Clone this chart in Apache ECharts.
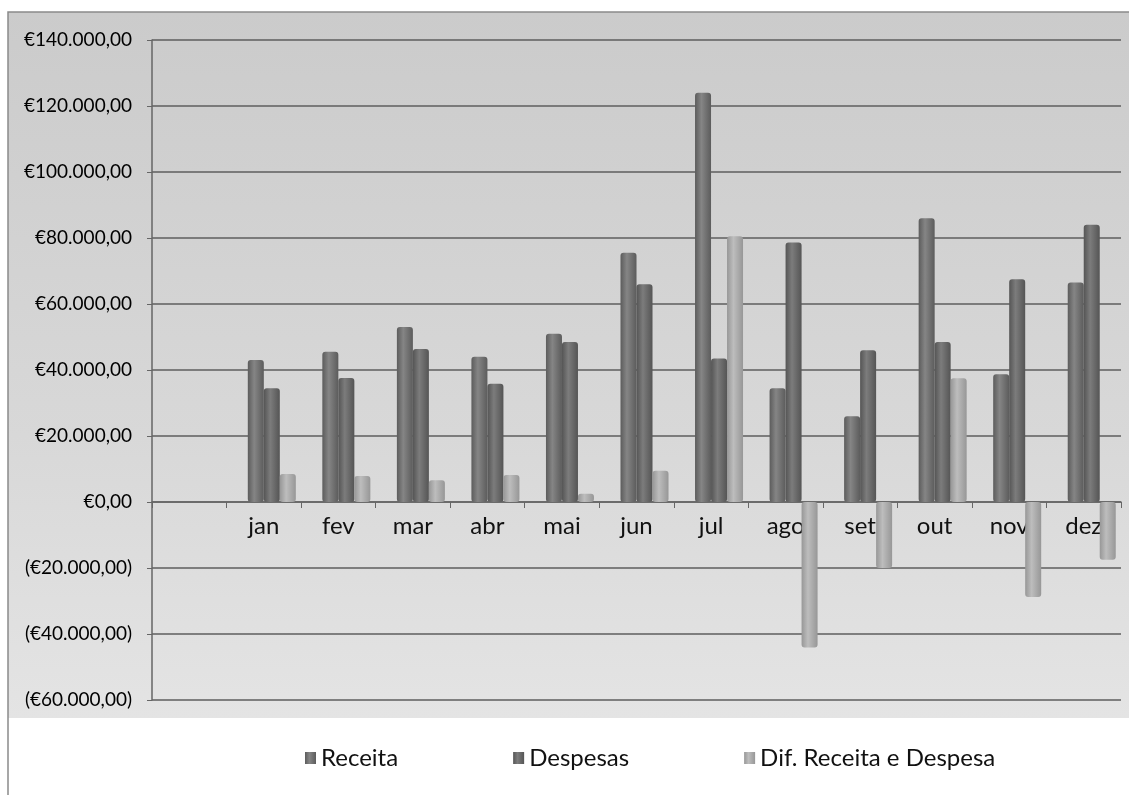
<!DOCTYPE html>
<html>
<head>
<meta charset="utf-8">
<script src="https://cdn.jsdelivr.net/npm/echarts@6/dist/echarts.min.js"></script>
<style>
  html, body { margin: 0; padding: 0; background: #ffffff; }
  #chart { width: 1129px; height: 795px; }
</style>
</head>
<body>
<div id="chart"></div>
<script>
  // meses (o primeiro é uma linha vazia da folha)
  var months = ['', 'jan', 'fev', 'mar', 'abr', 'mai', 'jun', 'jul', 'ago', 'set', 'out', 'nov', 'dez']
  var receita = [0, 43000, 45500, 53000, 44000, 51000, 75500, 124000, 34500, 26000, 86000, 38700, 66500]
  var despesas = [0, 34500, 37600, 46400, 35800, 48500, 66000, 43500, 78600, 46000, 48500, 67500, 84000]
  var diferenca = [0, 8500, 7900, 6600, 8200, 2500, 9500, 80500, -44100, -20000, 37500, -28800, -17500]
  var seriesNames = ['Receita', 'Despesas', 'Dif. Receita e Despesa']

  var chart = echarts.init(document.getElementById('chart'))

  // formato euro: €40.000,00 / (€20.000,00)
  function euro (v) {
    var a = Math.abs(v)
    var s = String(Math.round(a)).replace(/\B(?=(\d{3})+(?!\d))/g, '.')
    s = '€' + s + ',00'
    return v < 0 ? '(' + s + ')' : s
  }

  // cilindro: gradiente horizontal
  function cyl (edge, mid) {
    return new echarts.graphic.LinearGradient(0, 0, 1, 0, [
      { offset: 0, color: edge },
      { offset: 0.4, color: mid },
      { offset: 1, color: edge }
    ])
  }

  var option = {
    backgroundColor: '#ffffff',
    textStyle: { fontFamily: 'Lato, "Open Sans", sans-serif' },
    graphic: [
      {
        type: 'rect',
        z: -10,
        shape: { x: 8, y: 12, width: 1125, height: 706 },
        style: {
          fill: new echarts.graphic.LinearGradient(0, 0, 0, 1, [
            { offset: 0, color: '#cbcbcb' },
            { offset: 0.6, color: '#d8d8d8' },
            { offset: 1, color: '#e4e4e4' }
          ])
        }
      },
      {
        type: 'polyline',
        z: -9,
        shape: { points: [[8, 795], [8, 12], [1129, 12]] },
        style: { stroke: '#8a8a8a', lineWidth: 1.5, fill: null }
      }
    ],
    legend: {
      bottom: 20,
      left: 300,
      itemGap: 115,
      itemWidth: 11,
      itemHeight: 12,
      icon: 'rect',
      textStyle: { fontSize: 24, color: '#111', fontFamily: 'Lato, sans-serif' },
      data: seriesNames
    },
    grid: {
      left: 152,
      right: 8,
      top: 40,
      bottom: 95
    },
    xAxis: {
      type: 'category',
      data: months,
      // linha do eixo no zero: 198 px acima do fundo da grelha
      offset: -198,
      axisLine: { onZero: false, lineStyle: { color: '#666', width: 1.5 } },
      axisTick: { show: true, length: 6, lineStyle: { color: '#666' } },
      axisLabel: { fontSize: 24, color: '#111', margin: 12 }
    },
    yAxis: {
      type: 'value',
      min: -60000,
      max: 140000,
      interval: 20000,
      axisLine: { show: true, lineStyle: { color: '#666', width: 1.5 } },
      axisTick: { show: true, length: 5, lineStyle: { color: '#666' } },
      axisLabel: {
        fontSize: 19,
        color: '#000',
        margin: 20,
        formatter: euro
      },
      splitLine: { show: true, lineStyle: { color: '#5e5e5e', width: 1.5 } }
    },
    series: [
      {
        // espaço vazio à esquerda: desloca as colunas como na vista 3D
        name: 'espaco',
        type: 'bar',
        data: [],
        barWidth: 16,
        barGap: '0%',
        silent: true
      },
      {
        name: seriesNames[0],
        type: 'bar',
        data: receita,
        barWidth: 16,
        itemStyle: { color: cyl('#5c5c5c', '#858585'), borderRadius: 3 }
      },
      {
        name: seriesNames[1],
        type: 'bar',
        data: despesas,
        barWidth: 16,
        itemStyle: { color: cyl('#555555', '#7c7c7c'), borderRadius: 3 }
      },
      {
        name: seriesNames[2],
        type: 'bar',
        data: diferenca,
        barWidth: 16,
        itemStyle: { color: cyl('#979797', '#bdbdbd'), borderRadius: 3 }
      }
    ]
  }

  chart.setOption(option)
</script>
</body>
</html>
